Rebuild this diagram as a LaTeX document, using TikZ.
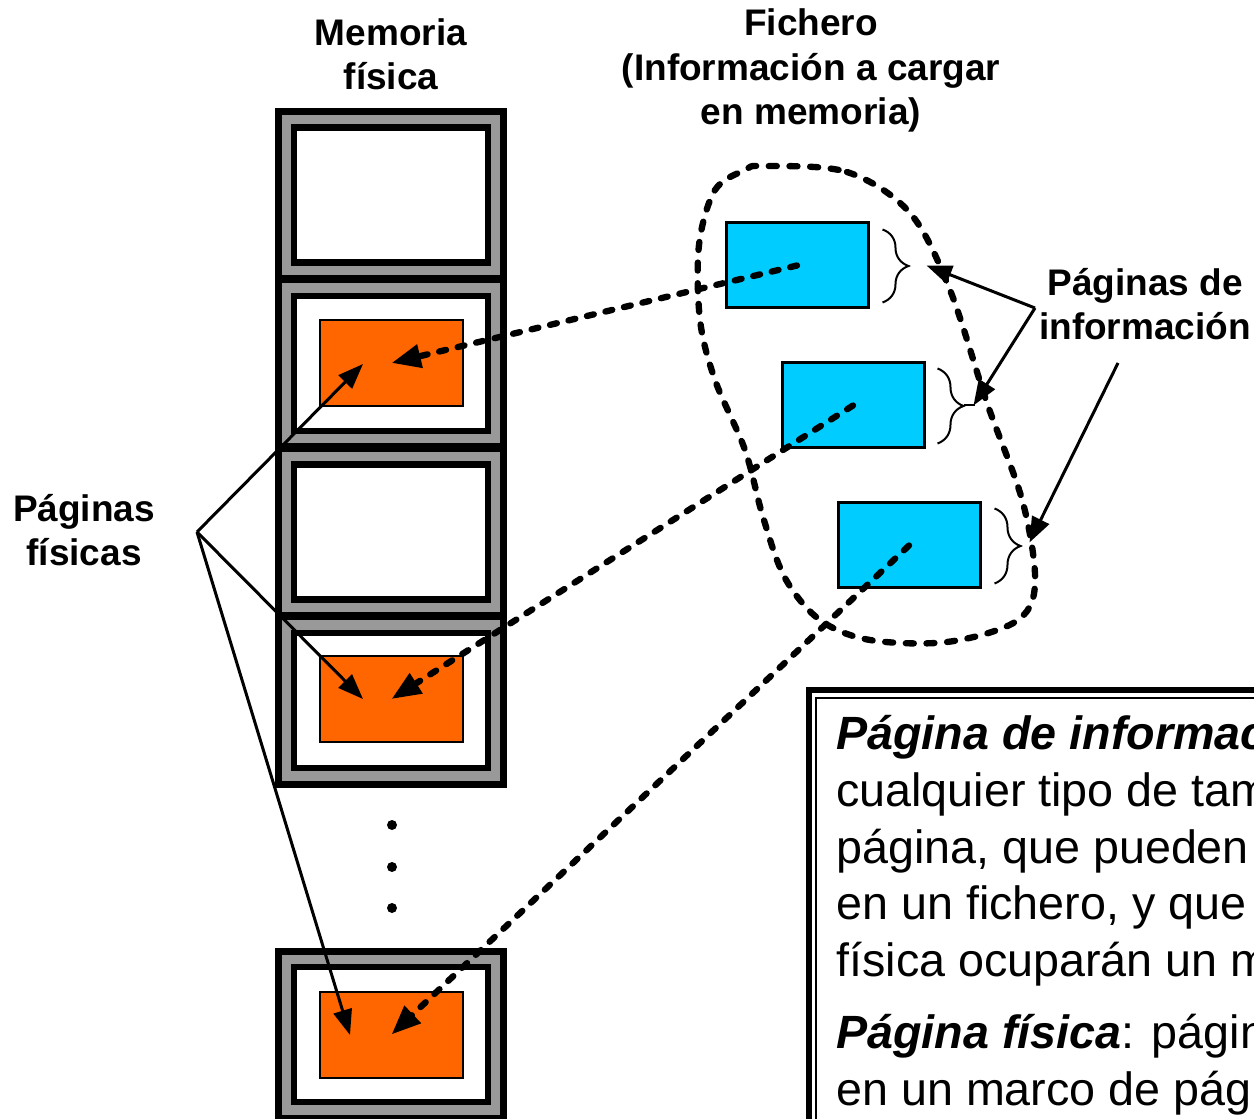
\documentclass[tikz,border=0pt]{standalone}
\usepackage{fontspec}
\setmainfont{Liberation Sans}
\usepackage{tikz}
\usetikzlibrary{arrows.meta, decorations.pathreplacing, calc}

\definecolor{framegray}{RGB}{153,153,153}
\definecolor{pageorange}{RGB}{255,102,0}
\definecolor{pageblue}{RGB}{0,204,255}

\begin{document}
\begin{tikzpicture}[
            x = 0.75pt, y = -0.75pt, % one unit is one pixel of the slide
            > = {Triangle[length=19pt, width=14pt]}, % arrow head style
            semithick % line style
        ]

        \tikzstyle{label}=[
            font = \fontsize{27.75}{33.4}\selectfont\bfseries,
            align = center,
            inner sep = 0pt
        ]
        \tikzstyle{outerframe}=[draw = black, fill = framegray, line width = 5.25pt]
        \tikzstyle{innerframe}=[draw = black, fill = white, line width = 4.9pt]
        \tikzstyle{physpage}=[
            draw = black,
            fill = pageorange,
            line width = 1.5pt,
            minimum width = 107.25pt,
            minimum height = 64.5pt,
            inner sep = 0pt
        ]
        \tikzstyle{infopage}=[
            draw = black,
            fill = pageblue,
            line width = 2.25pt,
            minimum width = 106.5pt,
            minimum height = 63.75pt,
            inner sep = 0pt
        ]
        \tikzstyle{pagebrace}=[decorate, decoration = {brace, amplitude = 19.5pt}, line width = 1.5pt]
        \tikzstyle{pointer}=[->, line width = 2.25pt]
        \tikzstyle{load}=[
            -{Triangle[length=22pt, width=17pt]},
            line width = 4.75pt,
            dash pattern = on 5.25pt off 9pt,
            line cap = round
        ]
        \tikzstyle{fileblob}=[line width = 4.75pt, dash pattern = on 6pt off 9.5pt, line cap = round]

        \useasboundingbox (0,0) rectangle (1254,1119);
        \clip (0,0) rectangle (1254,1119);

        % marcos de pagina de la memoria fisica
        \foreach \t in {111.5, 280, 448.5, 617, 951}
        {
            \draw[outerframe] (278.5,\t) rectangle (503.5,\t+167);
            \draw[innerframe] (294,\t+16) rectangle (488,\t+151);
        }
        \foreach \y in {825, 867, 908}
            \fill (392,\y) circle (3.75pt);

        \node[physpage] (p2) at (391.5,363) {};
        \node[physpage] (p4) at (391.5,699) {};
        \node[physpage] (p5) at (391.5,1034.5) {};

        % paginas del fichero
        \node[infopage] (i1) at (797,265.5) {};
        \node[infopage] (i2) at (853,405.5) {};
        \node[infopage] (i3) at (909,545.5) {};

        \draw[pagebrace] ($(i1.north east)+(13,8)$) -- ($(i1.south east)+(13,-7)$);
        \draw[pagebrace] ($(i2.north east)+(12,7)$) -- ($(i2.south east)+(12,-6)$);
        \draw[line width = 1.5pt] ($(i2.east)+(38,0)$) -- ($(i2.east)+(49,0)$);
        \draw[pagebrace] ($(i3.north east)+(13,7)$) -- ($(i3.south east)+(13,-6)$);

        \draw[fileblob] plot[smooth cycle, tension = 0.55] coordinates {
            (763,166) (847,172) (910,213) (950,290) (987,403) (1023,503)
            (1035,585) (1015,622) (947,642) (870,640) (820,620) (785,578)
            (763,517) (745,450) (715,380) (700,320) (699,245) (715,190) (745,170)};

        % textos
        \node[label, anchor = base] (mem) at (391,90) {Memoria\\física};
        \node[label, anchor = base] (fich) at (811,125) {Fichero\\(Información a cargar\\en memoria)};
        \node[label, anchor = base] (pinf) at (1145,340) {Páginas de\\información};
        \node[label, anchor = base] (pfis) at (84,566) {Páginas\\físicas};

        \coordinate (pf) at (197,532);
        \coordinate (pi) at (1035,308);
        \coordinate (pj) at (1118,363);

        \draw[pointer] (pf) -- ($(p2.center)+(-28.5,1)$);
        \draw[pointer] (pf) -- ($(p4.center)+(-28.5,0)$);
        \draw[pointer] (pf) -- ($(p5.center)+(-41.5,0.5)$);

        \draw[pointer] (pi) -- ($(i1.east)+(57,0)$);
        \draw[pointer] (pi) -- ($(i2.east)+(48,0)$);
        \draw[pointer] (pj) -- ($(i3.east)+(48,-3)$);

        \draw[load] (i1.center) -- (p2.center);
        \draw[load] (i2.center) -- (p4.center);
        \draw[load] (i3.center) -- (p5.center);

        % definiciones
        \draw[line width = 4.5pt, fill = white] (809,690) rectangle (1300,1200);
        \draw[line width = 1.5pt] (816,698) rectangle (1290,1190);
        \node[anchor = base west, align = left, inner sep = 0pt,
              font = \fontsize{35}{42.5}\selectfont] (def) at (836,1105)
            {\textbf{\textit{Página de información}}\\
             cualquier tipo de tamaño\\
             página, que pueden\\
             en un fichero, y que\\
             física ocuparán un marco\\[11.5pt]
             \textbf{\textit{Página física}}: página\\
             en un marco de página};

  \end{tikzpicture}
\end{document}
